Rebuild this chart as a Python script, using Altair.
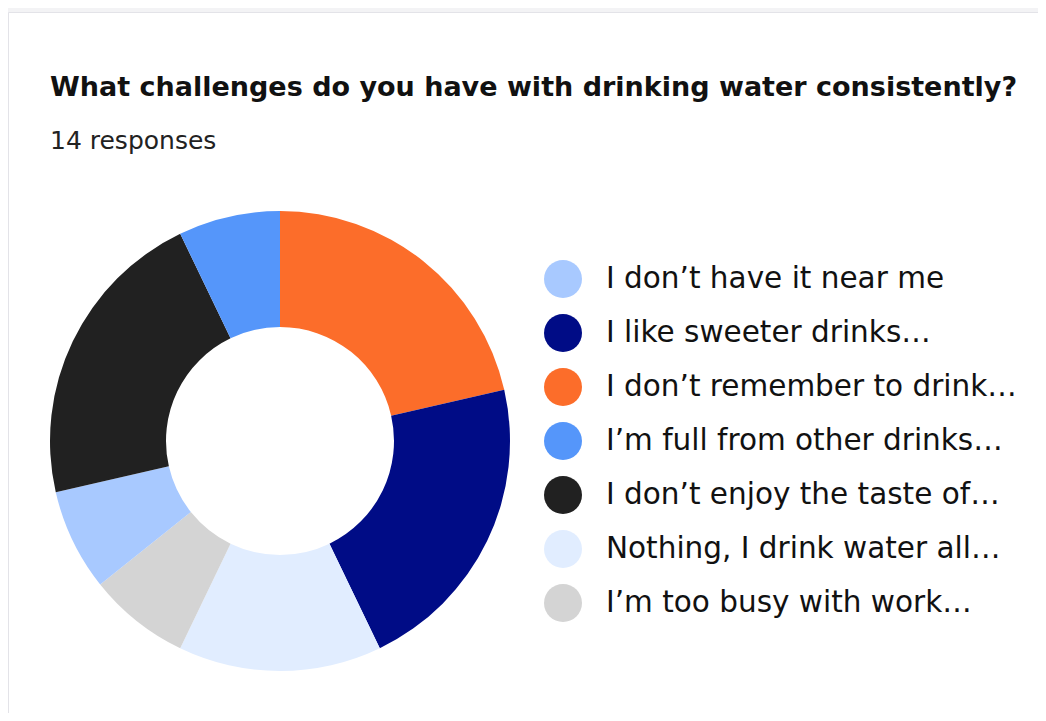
import altair as alt
import pandas as pd

title_text = "What challenges do you have with drinking water consistently?"
subtitle_text = "14 responses"

legend_order = [
    "I don’t have it near me",
    "I like sweeter drinks…",
    "I don’t remember to drink…",
    "I’m full from other drinks…",
    "I don’t enjoy the taste of…",
    "Nothing, I drink water all…",
    "I’m too busy with work…",
]
colors = ["#a8c9ff", "#000c86", "#fc6d2a", "#5596fa", "#212121", "#e1edff", "#d4d4d4"]

slice_order = [
    "I don’t remember to drink…",
    "I like sweeter drinks…",
    "Nothing, I drink water all…",
    "I’m too busy with work…",
    "I don’t have it near me",
    "I don’t enjoy the taste of…",
    "I’m full from other drinks…",
]
counts = [3, 3, 2, 1, 1, 3, 1]

df = pd.DataFrame({"answer": slice_order, "count": counts, "pos": list(range(len(counts)))})

W, H = 1030, 705

card = alt.Chart(pd.DataFrame({"a": [0]})).mark_rect(
    fill="white", stroke="#e3e3e8", strokeWidth=1
).encode(x=alt.value(0.5), x2=alt.value(1060), y=alt.value(4.5), y2=alt.value(760))

title = alt.Chart(pd.DataFrame({"t": [title_text]})).mark_text(
    align="left", baseline="alphabetic", font="DejaVu Sans", fontSize=27, fontWeight="bold", color="#111111"
).encode(x=alt.value(42), y=alt.value(88), text="t:N")

subtitle = alt.Chart(pd.DataFrame({"t": [subtitle_text]})).mark_text(
    align="left", baseline="alphabetic", font="DejaVu Sans", fontSize=25, fontWeight="normal", color="#222222"
).encode(x=alt.value(42), y=alt.value(141), text="t:N")

donut = alt.Chart(df).mark_arc(outerRadius=230, innerRadius=114, stroke=None).encode(
    theta=alt.Theta("count:Q", stack=True),
    order=alt.Order("pos:Q", sort="ascending"),
    color=alt.Color(
        "answer:N",
        scale=alt.Scale(domain=legend_order, range=colors),
        legend=alt.Legend(
            title=None,
            orient="none",
            legendX=536,
            legendY=252,
            symbolType="circle",
            symbolSize=1444,
            symbolStrokeWidth=0,
            labelFont="DejaVu Sans",
            labelFontSize=29.5,
            labelColor="#111111",
            labelOffset=24,
            labelLimit=500,
            rowPadding=16,
            padding=0,
        ),
    ),
    x=alt.value(272),
    y=alt.value(433),
)

chart = alt.layer(card, title, subtitle, donut).properties(
    width=W, height=H, padding=0, autosize=alt.AutoSizeParams(type="none"),
    background="#f3f3f5",
).configure_view(stroke=None)

chart.save("out.html", embed_options={"renderer": "svg", "actions": False})
